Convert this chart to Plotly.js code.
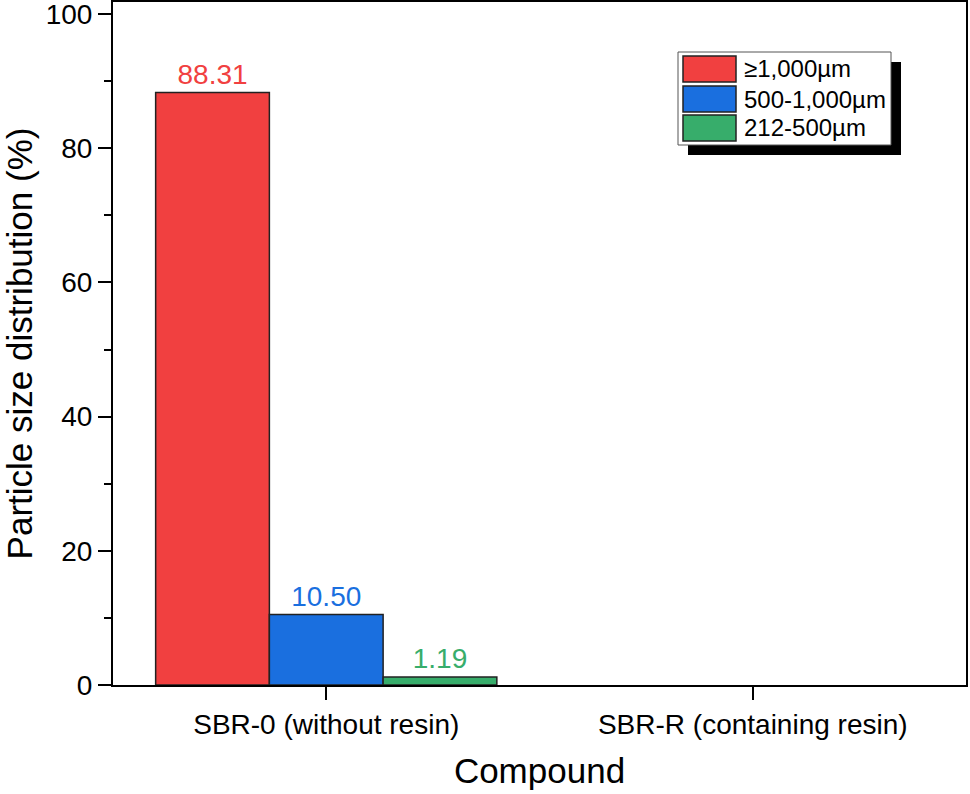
<!DOCTYPE html>
<html>
<head>
<meta charset="utf-8">
<script src="https://cdn.plot.ly/plotly-3.0.1.min.js"></script>
<style>html,body{margin:0;padding:0;background:#fff}</style>
</head>
<body>
<div id="chart" style="width:970px;height:794px"></div>
<script>
var compounds = ['SBR-0 (without resin)', 'SBR-R (containing resin)'];
var sizeNames = ['≥1,000µm', '500-1,000µm', '212-500µm'];
var sizeColors = ['#F14040', '#1A6FDF', '#37AD6B'];
var coarse = [88.31, null];
var medium = [10.50, null];
var fine = [1.19, null];
var series = [coarse, medium, fine];

var font = 'Arial, "Liberation Sans", sans-serif';

var data = series.map(function (vals, i) {
  return {
    type: 'bar',
    x: compounds,
    y: vals,
    name: sizeNames[i],
    marker: {color: sizeColors[i], line: {color: '#222', width: 1.5}},
    texttemplate: '%{y:.2f}',
    textposition: 'outside',
    textfont: {family: font, size: 28, color: sizeColors[i]},
    cliponaxis: false,
    hoverinfo: 'skip'
  };
});

// plot area in pixels, used to place the hand drawn legend
var L = 113, R = 966, T = 2, B = 685;
function px(x) { return (x - L) / (R - L); }
function py(y) { return (B - y) / (B - T); }

var shapes = [
  {type: 'rect', xref: 'paper', yref: 'paper', x0: px(688), x1: px(901), y0: py(155), y1: py(62),
   fillcolor: '#000', line: {width: 0}},
  {type: 'rect', xref: 'paper', yref: 'paper', x0: px(678), x1: px(891), y0: py(145), y1: py(52),
   fillcolor: '#fff', line: {color: '#555', width: 1}}
];
var annotations = [];
var rowTop = [56, 86, 115];
sizeNames.forEach(function (name, i) {
  shapes.push({type: 'rect', xref: 'paper', yref: 'paper',
    x0: px(683), x1: px(736), y0: py(rowTop[i] + 26), y1: py(rowTop[i]),
    fillcolor: sizeColors[i], line: {color: '#222', width: 1.5}});
  annotations.push({xref: 'paper', yref: 'paper', x: px(742), y: py(rowTop[i] + 13),
    xanchor: 'left', yanchor: 'middle', showarrow: false, text: name,
    font: {family: font, size: 24, color: '#000'}});
});

var layout = {
  width: 970,
  height: 794,
  margin: {l: L, r: 970 - R, t: T, b: 794 - B},
  paper_bgcolor: '#fff',
  plot_bgcolor: '#fff',
  font: {family: font, color: '#000'},
  showlegend: false,
  barmode: 'group',
  bargap: 0.2,
  bargroupgap: 0,
  xaxis: {
    type: 'category',
    range: [-0.5, 1.5],
    showline: true, linewidth: 2, linecolor: '#000', mirror: true,
    ticks: 'outside', ticklen: 13, tickwidth: 2, tickcolor: '#000',
    tickfont: {size: 28},
    title: {text: 'Compound', font: {size: 35}, standoff: 20},
    automargin: false
  },
  yaxis: {
    range: [0, 101.8],
    dtick: 20,
    showline: true, linewidth: 2, linecolor: '#000', mirror: true,
    showgrid: false, zeroline: false,
    ticks: 'outside', ticklen: 13, tickwidth: 2, tickcolor: '#000',
    ticklabeloverflow: 'allow',
    minor: {dtick: 10, ticks: 'outside', ticklen: 7, tickwidth: 2, tickcolor: '#000', showgrid: false},
    tickfont: {size: 28},
    title: {text: 'Particle size distribution (%)', font: {size: 35}, standoff: 20},
    automargin: false
  },
  shapes: shapes,
  annotations: annotations
};

Plotly.newPlot('chart', data, layout, {displayModeBar: false, staticPlot: true});
</script>
</body>
</html>
